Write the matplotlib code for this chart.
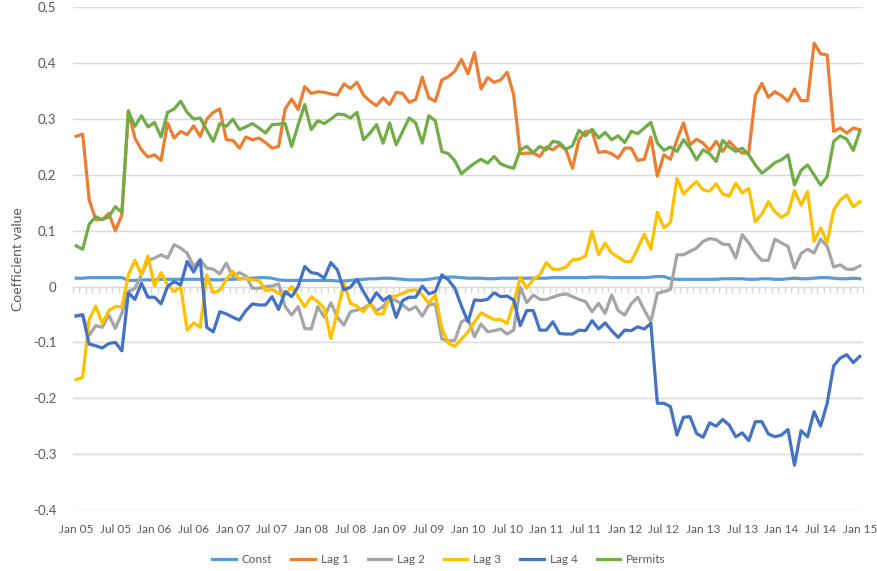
import numpy as np
import matplotlib
matplotlib.use("Agg")
import matplotlib.pyplot as plt

plt.rcParams['font.family'] = ['Lato', 'DejaVu Sans']

# monthly coefficients, Jan 05 .. Jan 15 (121 months)
const = [0.015, 0.015, 0.016, 0.016, 0.016, 0.016, 0.016, 0.016,
         0.011, 0.011, 0.012, 0.012, 0.012, 0.013, 0.013, 0.013, 0.013, 0.013,
         0.013, 0.013, 0.013, 0.012, 0.012, 0.013, 0.013, 0.014,
         0.015, 0.015, 0.016, 0.016, 0.015, 0.012,
         0.011, 0.011, 0.011, 0.011, 0.011, 0.011, 0.011, 0.011, 0.010, 0.010, 0.011, 0.012, 0.013,
         0.014, 0.014, 0.015, 0.015, 0.014, 0.013, 0.012, 0.012,
         0.012, 0.013, 0.015, 0.016, 0.017, 0.017, 0.016, 0.015,
         0.015, 0.015, 0.014, 0.014, 0.015, 0.015, 0.015, 0.015, 0.015, 0.015,
         0.015, 0.015, 0.016, 0.016, 0.016, 0.016, 0.016, 0.016, 0.017, 0.017,
         0.017, 0.016, 0.016, 0.016, 0.016, 0.016, 0.016, 0.017, 0.018, 0.018,
         0.014, 0.013, 0.013, 0.013, 0.013, 0.013, 0.013, 0.013, 0.014, 0.014,
         0.014, 0.014, 0.013, 0.013, 0.014, 0.014, 0.013, 0.013, 0.014, 0.015,
         0.014, 0.014, 0.015, 0.016, 0.016, 0.015, 0.014, 0.014, 0.015, 0.014]

lag1 = [0.269, 0.273, 0.155, 0.120, 0.120, 0.131, 0.100, 0.128, 0.315, 0.266,
        0.245, 0.232, 0.236, 0.226, 0.293, 0.266, 0.278, 0.272, 0.288, 0.269,
        0.300, 0.312, 0.318, 0.263, 0.262, 0.248, 0.268, 0.263, 0.266, 0.258,
        0.248, 0.251, 0.318, 0.336, 0.317, 0.358, 0.346, 0.349, 0.348, 0.345,
        0.343, 0.363, 0.355, 0.366, 0.343, 0.332, 0.324, 0.338, 0.326, 0.348,
        0.346, 0.330, 0.335, 0.375, 0.338, 0.332, 0.370, 0.376, 0.386, 0.407,
        0.381, 0.419, 0.354, 0.374, 0.366, 0.370, 0.384, 0.343, 0.238, 0.239,
        0.239, 0.233, 0.250, 0.245, 0.254, 0.245, 0.212, 0.263, 0.278, 0.278,
        0.240, 0.242, 0.238, 0.230, 0.248, 0.248, 0.226, 0.228, 0.268, 0.198,
        0.236, 0.228, 0.263, 0.293, 0.254, 0.264, 0.257, 0.244, 0.260, 0.242,
        0.260, 0.248, 0.239, 0.240, 0.342, 0.364, 0.339, 0.349, 0.342, 0.332,
        0.354, 0.333, 0.333, 0.436, 0.417, 0.415, 0.278, 0.284, 0.275, 0.284,
        0.281]

lag2 = [-0.052, -0.050, -0.087, -0.070, -0.073, -0.051, -0.075, -0.048, -0.009, -0.003,
        0.021, 0.047, 0.051, 0.057, 0.051, 0.075, 0.069, 0.060, 0.036, 0.048,
        0.033, 0.031, 0.023, 0.042, 0.018, 0.025, 0.019, -0.003, -0.003, 0.000,
        0.001, 0.005, -0.036, -0.051, -0.036, -0.075, -0.076, -0.036, -0.055, -0.029,
        -0.055, -0.069, -0.045, -0.042, -0.039, -0.031, -0.043, -0.036, -0.021, -0.025,
        -0.033, -0.042, -0.036, -0.053, -0.033, -0.031, -0.094, -0.097, -0.096, -0.063,
        -0.057, -0.090, -0.067, -0.081, -0.079, -0.076, -0.085, -0.078, -0.001, -0.029,
        -0.015, -0.023, -0.023, -0.019, -0.015, -0.013, -0.018, -0.023, -0.027, -0.045,
        -0.030, -0.048, -0.015, -0.043, -0.051, -0.031, -0.019, -0.042, -0.063, -0.012,
        -0.009, -0.005, 0.057, 0.057, 0.063, 0.069, 0.081, 0.086, 0.084, 0.076,
        0.075, 0.051, 0.093, 0.078, 0.060, 0.047, 0.047, 0.085, 0.078, 0.072,
        0.033, 0.059, 0.067, 0.060, 0.085, 0.072, 0.035, 0.039, 0.031, 0.031,
        0.037]

lag3 = [-0.167, -0.162, -0.059, -0.035, -0.066, -0.043, -0.036, -0.036, 0.021, 0.047,
        0.021, 0.055, 0.001, 0.025, 0.003, -0.009, 0.000, -0.078, -0.065, -0.073,
        0.021, -0.011, -0.007, 0.013, 0.027, 0.013, 0.015, 0.012, 0.011, -0.007,
        -0.005, -0.012, -0.015, 0.000, -0.018, -0.036, -0.018, -0.027, -0.039, -0.093,
        -0.045, 0.006, -0.030, -0.035, -0.045, -0.030, -0.049, -0.049, -0.018, -0.017,
        -0.012, -0.007, -0.006, -0.015, -0.030, -0.015, -0.075, -0.102, -0.107, -0.094,
        -0.081, -0.063, -0.047, -0.053, -0.059, -0.059, -0.066, -0.029, 0.017, -0.003,
        0.013, 0.021, 0.043, 0.031, 0.031, 0.035, 0.048, 0.049, 0.055, 0.099,
        0.057, 0.078, 0.060, 0.053, 0.045, 0.045, 0.069, 0.094, 0.067, 0.133,
        0.105, 0.115, 0.194, 0.166, 0.178, 0.188, 0.173, 0.171, 0.184, 0.166,
        0.162, 0.185, 0.168, 0.176, 0.116, 0.130, 0.152, 0.134, 0.124, 0.131,
        0.172, 0.146, 0.170, 0.081, 0.105, 0.079, 0.137, 0.155, 0.164, 0.143,
        0.152]

lag4 = [-0.053, -0.051, -0.103, -0.106, -0.110, -0.102, -0.100, -0.115, -0.011, -0.023,
        0.006, -0.019, -0.019, -0.031, 0.000, 0.009, 0.003, 0.045, 0.026, 0.048,
        -0.073, -0.081, -0.045, -0.049, -0.055, -0.060, -0.043, -0.031, -0.033, -0.033,
        -0.018, -0.041, -0.009, -0.018, 0.000, 0.036, 0.025, 0.023, 0.015, 0.043,
        0.030, -0.006, -0.001, 0.013, -0.009, -0.029, -0.011, -0.025, -0.017, -0.055,
        -0.025, -0.019, -0.019, 0.001, -0.013, -0.009, 0.021, 0.012, -0.003, -0.035,
        -0.063, -0.024, -0.025, -0.023, -0.011, -0.018, -0.017, -0.024, -0.070, -0.043,
        -0.043, -0.078, -0.078, -0.063, -0.084, -0.085, -0.085, -0.078, -0.079, -0.061,
        -0.076, -0.065, -0.079, -0.091, -0.078, -0.079, -0.072, -0.076, -0.066, -0.209,
        -0.209, -0.215, -0.266, -0.234, -0.233, -0.263, -0.270, -0.244, -0.250, -0.238,
        -0.248, -0.269, -0.262, -0.276, -0.242, -0.242, -0.264, -0.269, -0.266, -0.256,
        -0.320, -0.258, -0.269, -0.224, -0.250, -0.209, -0.142, -0.128, -0.122, -0.136,
        -0.125]

permits = [0.073, 0.067, 0.112, 0.125, 0.120, 0.125, 0.143, 0.133, 0.314, 0.287,
           0.306, 0.286, 0.294, 0.268, 0.312, 0.318, 0.332, 0.312, 0.300, 0.302,
           0.280, 0.260, 0.292, 0.287, 0.300, 0.281, 0.286, 0.292, 0.284, 0.275,
           0.290, 0.291, 0.292, 0.251, 0.290, 0.326, 0.281, 0.297, 0.292, 0.300,
           0.309, 0.308, 0.302, 0.312, 0.263, 0.275, 0.290, 0.257, 0.293, 0.254,
           0.278, 0.302, 0.293, 0.257, 0.306, 0.297, 0.242, 0.238, 0.225, 0.202,
           0.212, 0.221, 0.228, 0.221, 0.233, 0.220, 0.215, 0.212, 0.245, 0.251,
           0.240, 0.251, 0.245, 0.260, 0.258, 0.246, 0.252, 0.280, 0.270, 0.282,
           0.266, 0.276, 0.263, 0.270, 0.258, 0.278, 0.274, 0.284, 0.294, 0.257,
           0.244, 0.250, 0.242, 0.263, 0.248, 0.227, 0.245, 0.238, 0.224, 0.262,
           0.250, 0.242, 0.248, 0.236, 0.218, 0.203, 0.212, 0.222, 0.227, 0.236,
           0.182, 0.208, 0.218, 0.200, 0.182, 0.197, 0.260, 0.270, 0.264, 0.244,
           0.278]

series_names = ["Const", "Lag 1", "Lag 2", "Lag 3", "Lag 4", "Permits"]
colors = ["#5B9BD5", "#ED7D31", "#A5A5A5", "#FFC000", "#4472C4", "#70AD47"]

tick_labels = []
for yr in range(5, 16):
    tick_labels.append(f"Jan {yr:02d}")
    if yr < 15:
        tick_labels.append(f"Jul {yr:02d}")

n = len(lag1)
x = np.arange(n)

fig = plt.figure(figsize=(8.78, 5.71), dpi=100)
ax = fig.add_axes([0.083, 0.107, 0.9, 0.88])

for name, data, c in zip(series_names, [const, lag1, lag2, lag3, lag4, permits], colors):
    ax.plot(x, data, color=c, lw=2.3, label=name, solid_joinstyle='round')

ax.set_xlim(-0.5, n - 0.5)
ax.set_ylim(-0.4, 0.5)
ax.set_yticks(np.arange(-0.4, 0.51, 0.1))
ax.set_yticklabels(["-0.4", "-0.3", "-0.2", "-0.1", "0", "0.1", "0.2", "0.3", "0.4", "0.5"])
ax.grid(axis='y', color='#d9d9d9', lw=1)
ax.set_axisbelow(True)
for s in ax.spines.values():
    s.set_visible(False)

ax.set_xticks(np.arange(0, n, 6))
ax.set_xticklabels(tick_labels)
ax.tick_params(axis='x', length=0, pad=10, labelsize=8.5, labelcolor='#595959')
ax.tick_params(axis='y', length=0, pad=12, labelsize=9.5, labelcolor='#595959')
ax.set_ylabel("Coefficient value", fontsize=10, color='#595959', labelpad=6)

# category axis crossing at zero, with a tick between every month
sec = ax.secondary_xaxis(0.4 / 0.9)
sec.set_xticks(np.arange(-0.5, n, 1))
sec.set_xticklabels([])
sec.tick_params(axis='x', direction='out', length=4, color='#d9d9d9', width=1)
sec.spines['bottom'].set_color('#d9d9d9')

fig.legend(loc='lower center', bbox_to_anchor=(0.5, -0.008), ncol=6, frameon=False,
           fontsize=8.5, handlelength=2.0, handletextpad=0.5, columnspacing=1.6,
           labelcolor='#595959')

fig.savefig("out.png", dpi=100)
